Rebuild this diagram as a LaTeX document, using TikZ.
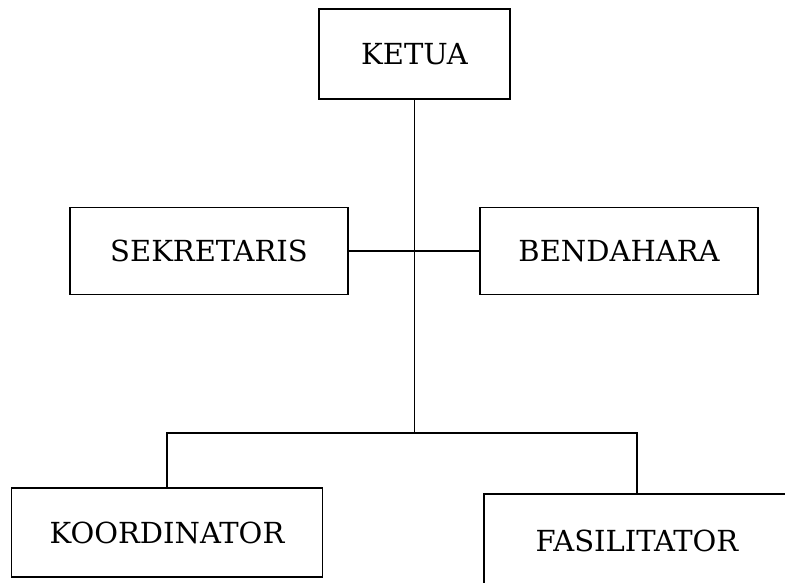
\documentclass[tikz,border=0pt]{standalone}
\usepackage{fontspec}
\setmainfont{DejaVu Serif}
\usepackage{tikz}

\begin{document}
\begin{tikzpicture}[
    kotak/.style={draw,line width=1.6pt,inner sep=0pt,font=\fontsize{29}{34}\selectfont},
    garis/.style={line width=1.5pt}]
    \useasboundingbox (0,0) rectangle (785pt,-582pt);
    \clip (0,0) rectangle (785pt,-582pt);
    \node[kotak,minimum width=191pt,minimum height=90pt] (ketua) at (414.5pt,-54pt) {KETUA};
    \node[kotak,minimum width=278pt,minimum height=87pt] (sekretaris) at (209pt,-251pt) {SEKRETARIS};
    \node[kotak,minimum width=278pt,minimum height=87pt] (bendahara) at (619pt,-251pt) {BENDAHARA};
    \node[kotak,minimum width=311pt,minimum height=89pt] (koordinator) at (167pt,-532.5pt) {KOORDINATOR};
    \node[kotak,minimum width=306pt,minimum height=94pt] (fasilitator) at (637pt,-541pt) {FASILITATOR};
    \coordinate (cabang) at (ketua.south |- 0,-433pt);
    \draw[garis] (ketua.south) -- (cabang);
    \draw[garis] (sekretaris.east) -- (bendahara.west);
    \draw[garis] (cabang) -| (koordinator.north);
    \draw[garis] (cabang) -| (fasilitator.north);
\end{tikzpicture}
\end{document}
